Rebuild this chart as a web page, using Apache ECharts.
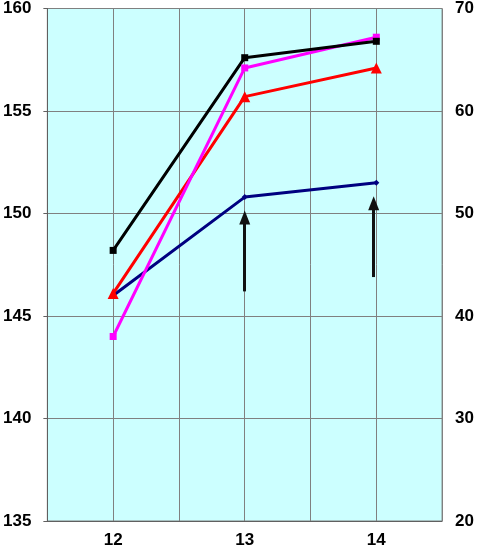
<!DOCTYPE html>
<html>
<head>
<meta charset="utf-8">
<script src="https://cdn.jsdelivr.net/npm/echarts@6/dist/echarts.min.js"></script>
<style>
html, body { margin: 0; padding: 0; background: #fff; }
#chart { width: 477px; height: 551px; }
</style>
</head>
<body>
<div id="chart"></div>
<script>
// ages on x axis
var ages = [12, 13, 14]
var blackVals = [148.2, 157.6, 158.4]
var magentaVals = [144.0, 157.1, 158.6]
var redVals = [146.1, 155.7, 157.1]
var blueVals = [146.0, 150.8, 151.5]
// arrows: [x, yFrom, yTo]
var arrows = [[13.0, 146.2, 149.8], [13.98, 146.9, 150.5]]

function pts(vals) {
    return ages.map(function (a, i) { return [a, vals[i]] })
}

var myChart = echarts.init(document.getElementById('chart'))
var labelStyle = { color: '#000', fontSize: 17, fontWeight: 'bold', fontFamily: 'Liberation Sans, Arial' }

myChart.setOption({
    animation: false,
    grid: {
        left: 46, right: 31, top: 7, bottom: 30,
        show: true,
        backgroundColor: '#ccffff',
        borderColor: '#808080',
        borderWidth: 1
    },
    xAxis: {
        type: 'value',
        min: 11.5, max: 14.5, interval: 0.5,
        axisLine: { lineStyle: { color: '#606060' } },
        axisTick: { show: false },
        splitLine: { lineStyle: { color: '#808080', width: 1 } },
        axisLabel: Object.assign({
            margin: 11,
            formatter: function (v) { return v % 1 === 0 ? v : '' }
        }, labelStyle)
    },
    yAxis: [
        {
            type: 'value',
            min: 135, max: 160, interval: 5,
            axisLine: { show: true, lineStyle: { color: '#606060' } },
            axisTick: { show: true, length: 4, lineStyle: { color: '#606060' } },
            splitLine: { lineStyle: { color: '#808080', width: 1 } },
            axisLabel: Object.assign({ margin: 16 }, labelStyle)
        },
        {
            type: 'value',
            min: 20, max: 70, interval: 10,
            position: 'right',
            axisLine: { show: false },
            axisTick: { show: false },
            splitLine: { show: false },
            axisLabel: Object.assign({ margin: 13 }, labelStyle)
        }
    ],
    series: [
        {
            type: 'line', data: pts(blueVals),
            symbol: 'diamond', symbolSize: 6,
            lineStyle: { color: '#000080', width: 3 },
            itemStyle: { color: '#000080' },
            markLine: {
                silent: true,
                symbol: ['none', 'triangle'],
                symbolSize: [11, 14],
                label: { show: false },
                lineStyle: { color: '#111', width: 3, type: 'solid' },
                data: arrows.map(function (a) {
                    return [{ coord: [a[0], a[1]] }, { coord: [a[0], a[2]] }]
                })
            }
        },
        {
            type: 'line', data: pts(redVals),
            symbol: 'triangle', symbolSize: 11,
            lineStyle: { color: '#ff0000', width: 3 },
            itemStyle: { color: '#ff0000' }
        },
        {
            type: 'line', data: pts(magentaVals),
            symbol: 'rect', symbolSize: 7,
            lineStyle: { color: '#ff00ff', width: 3 },
            itemStyle: { color: '#ff00ff' }
        },
        {
            type: 'line', data: pts(blackVals),
            symbol: 'rect', symbolSize: 7,
            lineStyle: { color: '#000000', width: 3 },
            itemStyle: { color: '#000000' }
        }
    ]
})
</script>
</body>
</html>
